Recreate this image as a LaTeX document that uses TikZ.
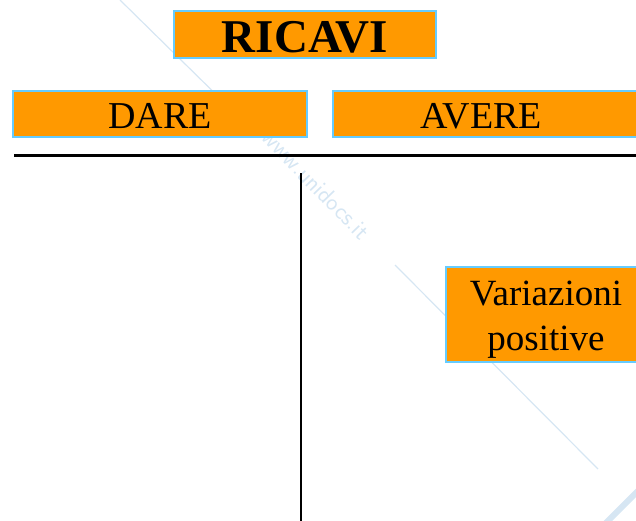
\documentclass[tikz,border=0pt]{standalone}
\usepackage{fontspec}
\setmainfont{Liberation Serif}
\definecolor{boxfill}{HTML}{FF9900}
\definecolor{boxline}{HTML}{66CCFF}
\definecolor{wm}{HTML}{D6E6F3}
\begin{document}
\begin{tikzpicture}[x=1pt,y=-1pt,
  orangebox/.style={draw=boxline,line width=2pt,fill=boxfill},
  lbl/.style={anchor=base,inner sep=0pt,text=black},
  wmline/.style={draw=wm,line width=1.2pt}]
\useasboundingbox (0,0) rectangle (636,520);
\begin{scope}
\clip (0,0) rectangle (636,520);
% watermark
\draw[wmline] (120,0) -- (240,118);
\draw[wmline] (395,265) -- (598,469);
\node[rotate=-46,text=wm,font=\sffamily\fontsize{24}{24}\selectfont] (wmtext) at (316,184) {www.unidocs.it};
\draw[draw=wm,line width=6pt,rounded corners=6pt,rotate around={45:(640,520)}] (600,498) rectangle (680,545);
% boxes
\node[orangebox,minimum width=262pt,minimum height=47pt,inner sep=0pt] (ricavibox) at (305,34.5) {};
\node[lbl,font=\bfseries\fontsize{47}{47}\selectfont] (ricavi) at (305,52) {RICAVI};
\node[orangebox,minimum width=294pt,minimum height=46pt,inner sep=0pt] (darebox) at (160,114) {};
\node[lbl,font=\fontsize{38}{38}\selectfont] (dare) at (160,128.5) {DARE};
\node[orangebox,minimum width=310pt,minimum height=46pt,inner sep=0pt] (averebox) at (488,114) {};
\node[lbl,font=\fontsize{38}{38}\selectfont] (avere) at (481,128.5) {AVERE};
% T account
\coordinate (hl) at (14,155);
\coordinate (hr) at (640,155);
\draw[line width=3pt] (hl) -- (hr);
\coordinate (vt) at (301,173);
\coordinate (vb) at (301,522);
\draw[line width=2.2pt] (vt) -- (vb);
% variazioni
\node[orangebox,minimum width=200pt,minimum height=95pt,inner sep=0pt] (varbox) at (546,314.5) {};
\node[lbl,font=\fontsize{37}{37}\selectfont] (var1) at (546,305.5) {Variazioni};
\node[lbl,font=\fontsize{37}{37}\selectfont] (var2) at (546,350) {positive};
\end{scope}
\end{tikzpicture}
\end{document}
